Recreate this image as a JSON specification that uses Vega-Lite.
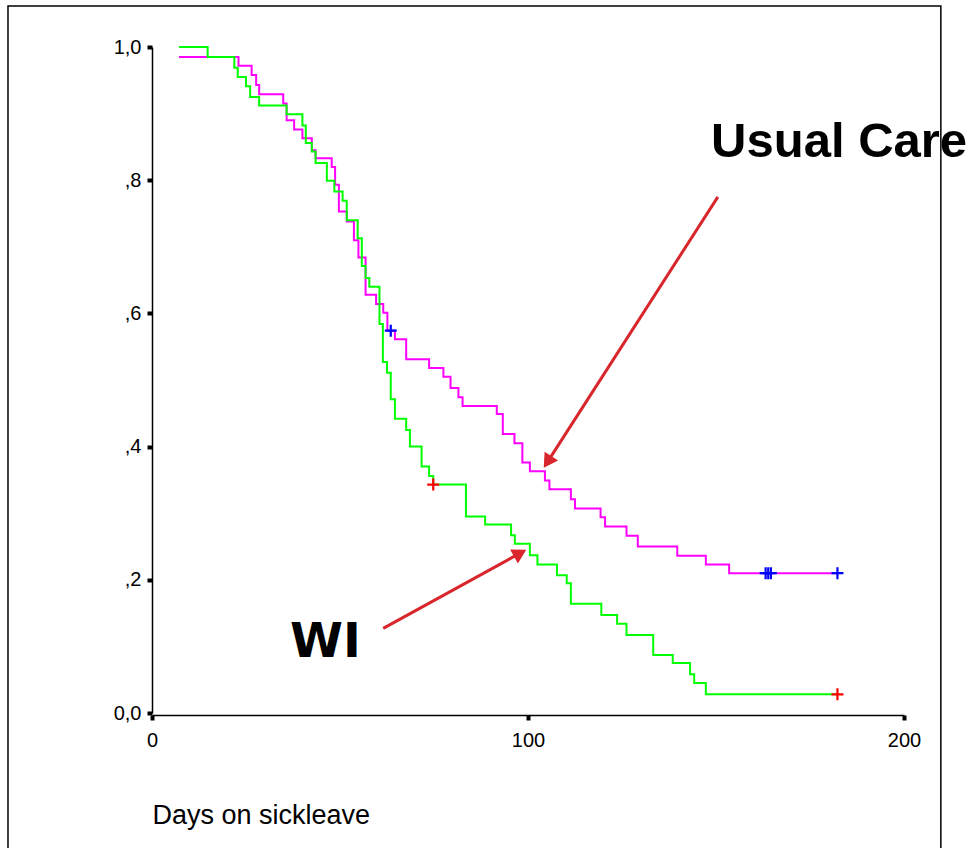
{
  "$schema": "https://vega.github.io/schema/vega-lite/v6.json",
  "width": 752,
  "height": 666,
  "autosize": "none",
  "padding": {"left": 152, "top": 47, "right": 68, "bottom": 135},
  "background": "white",
  "config": {
    "view": {"stroke": null},
    "axisX": {
      "grid": false, "offset": 2,
      "domainColor": "black", "domainWidth": 1.5,
      "tickColor": "black", "tickSize": 5, "tickWidth": 4,
      "labelFont": "Liberation Sans", "labelFontSize": 20, "labelColor": "black", "labelPadding": 10,
      "labelFlush": false,
      "titleFont": "Liberation Sans", "titleFontSize": 27,
      "titleFontWeight": "normal", "titleColor": "black",
      "titleAnchor": "start", "titleAlign": "left", "titleX": 0, "titleY": 108, "titleBaseline": "alphabetic"
    },
    "axisY": {
      "grid": false,
      "domainColor": "black", "domainWidth": 1.5,
      "tickColor": "black", "tickSize": 5, "tickWidth": 4,
      "labelFont": "Liberation Sans", "labelFontSize": 20, "labelColor": "black", "labelPadding": 6,
      "labelFlush": false
    }
  },
  "datasets": {
    "km": [
      {"group": "Usual Care", "day": 7.2, "surv": 0.985},
      {"group": "Usual Care", "day": 23.0, "surv": 0.972},
      {"group": "Usual Care", "day": 26.5, "surv": 0.958},
      {"group": "Usual Care", "day": 27.7, "surv": 0.943},
      {"group": "Usual Care", "day": 28.5, "surv": 0.929},
      {"group": "Usual Care", "day": 34.9, "surv": 0.915},
      {"group": "Usual Care", "day": 35.8, "surv": 0.890},
      {"group": "Usual Care", "day": 37.8, "surv": 0.876},
      {"group": "Usual Care", "day": 40.0, "surv": 0.863},
      {"group": "Usual Care", "day": 42.5, "surv": 0.845},
      {"group": "Usual Care", "day": 43.5, "surv": 0.833},
      {"group": "Usual Care", "day": 47.8, "surv": 0.820},
      {"group": "Usual Care", "day": 48.7, "surv": 0.793},
      {"group": "Usual Care", "day": 49.7, "surv": 0.753},
      {"group": "Usual Care", "day": 51.8, "surv": 0.738},
      {"group": "Usual Care", "day": 53.7, "surv": 0.710},
      {"group": "Usual Care", "day": 54.9, "surv": 0.684},
      {"group": "Usual Care", "day": 56.8, "surv": 0.628},
      {"group": "Usual Care", "day": 59.6, "surv": 0.614},
      {"group": "Usual Care", "day": 61.5, "surv": 0.601},
      {"group": "Usual Care", "day": 62.6, "surv": 0.574},
      {"group": "Usual Care", "day": 64.6, "surv": 0.561},
      {"group": "Usual Care", "day": 67.6, "surv": 0.531},
      {"group": "Usual Care", "day": 73.7, "surv": 0.518},
      {"group": "Usual Care", "day": 77.5, "surv": 0.505},
      {"group": "Usual Care", "day": 79.4, "surv": 0.488},
      {"group": "Usual Care", "day": 81.5, "surv": 0.474},
      {"group": "Usual Care", "day": 82.6, "surv": 0.461},
      {"group": "Usual Care", "day": 91.7, "surv": 0.449},
      {"group": "Usual Care", "day": 93.3, "surv": 0.419},
      {"group": "Usual Care", "day": 96.4, "surv": 0.405},
      {"group": "Usual Care", "day": 98.5, "surv": 0.376},
      {"group": "Usual Care", "day": 100.5, "surv": 0.363},
      {"group": "Usual Care", "day": 104.5, "surv": 0.349},
      {"group": "Usual Care", "day": 105.7, "surv": 0.336},
      {"group": "Usual Care", "day": 111.4, "surv": 0.321},
      {"group": "Usual Care", "day": 112.5, "surv": 0.307},
      {"group": "Usual Care", "day": 119.3, "surv": 0.294},
      {"group": "Usual Care", "day": 120.5, "surv": 0.280},
      {"group": "Usual Care", "day": 126.2, "surv": 0.266},
      {"group": "Usual Care", "day": 129.2, "surv": 0.250},
      {"group": "Usual Care", "day": 139.7, "surv": 0.236},
      {"group": "Usual Care", "day": 147.3, "surv": 0.223},
      {"group": "Usual Care", "day": 153.5, "surv": 0.210},
      {"group": "Usual Care", "day": 182.3, "surv": 0.210},
      {"group": "WI", "day": 7.2, "surv": 1.0},
      {"group": "WI", "day": 14.8, "surv": 0.985},
      {"group": "WI", "day": 21.9, "surv": 0.969},
      {"group": "WI", "day": 22.8, "surv": 0.955},
      {"group": "WI", "day": 25.0, "surv": 0.941},
      {"group": "WI", "day": 26.1, "surv": 0.925},
      {"group": "WI", "day": 28.5, "surv": 0.912},
      {"group": "WI", "day": 35.8, "surv": 0.899},
      {"group": "WI", "day": 40.0, "surv": 0.882},
      {"group": "WI", "day": 40.9, "surv": 0.856},
      {"group": "WI", "day": 42.5, "surv": 0.843},
      {"group": "WI", "day": 43.5, "surv": 0.826},
      {"group": "WI", "day": 46.5, "surv": 0.799},
      {"group": "WI", "day": 48.5, "surv": 0.783},
      {"group": "WI", "day": 50.7, "surv": 0.769},
      {"group": "WI", "day": 51.8, "surv": 0.740},
      {"group": "WI", "day": 54.7, "surv": 0.713},
      {"group": "WI", "day": 55.8, "surv": 0.671},
      {"group": "WI", "day": 56.8, "surv": 0.653},
      {"group": "WI", "day": 57.8, "surv": 0.640},
      {"group": "WI", "day": 60.5, "surv": 0.584},
      {"group": "WI", "day": 61.4, "surv": 0.527},
      {"group": "WI", "day": 62.5, "surv": 0.511},
      {"group": "WI", "day": 63.5, "surv": 0.471},
      {"group": "WI", "day": 64.6, "surv": 0.442},
      {"group": "WI", "day": 67.6, "surv": 0.425},
      {"group": "WI", "day": 68.6, "surv": 0.400},
      {"group": "WI", "day": 71.7, "surv": 0.370},
      {"group": "WI", "day": 73.7, "surv": 0.356},
      {"group": "WI", "day": 74.8, "surv": 0.343},
      {"group": "WI", "day": 83.5, "surv": 0.295},
      {"group": "WI", "day": 88.6, "surv": 0.283},
      {"group": "WI", "day": 95.5, "surv": 0.267},
      {"group": "WI", "day": 96.5, "surv": 0.254},
      {"group": "WI", "day": 100.5, "surv": 0.237},
      {"group": "WI", "day": 102.5, "surv": 0.223},
      {"group": "WI", "day": 107.7, "surv": 0.207},
      {"group": "WI", "day": 110.3, "surv": 0.195},
      {"group": "WI", "day": 111.4, "surv": 0.164},
      {"group": "WI", "day": 119.5, "surv": 0.147},
      {"group": "WI", "day": 123.7, "surv": 0.134},
      {"group": "WI", "day": 126.2, "surv": 0.117},
      {"group": "WI", "day": 133.3, "surv": 0.087},
      {"group": "WI", "day": 138.5, "surv": 0.075},
      {"group": "WI", "day": 143.1, "surv": 0.058},
      {"group": "WI", "day": 144.2, "surv": 0.045},
      {"group": "WI", "day": 147.3, "surv": 0.028},
      {"group": "WI", "day": 182.3, "surv": 0.028}
    ],
    "censor": [
      {"group": "Usual Care", "day": 63.5, "surv": 0.574},
      {"group": "Usual Care", "day": 163.2, "surv": 0.210},
      {"group": "Usual Care", "day": 163.9, "surv": 0.210},
      {"group": "Usual Care", "day": 164.6, "surv": 0.210},
      {"group": "Usual Care", "day": 182.3, "surv": 0.210},
      {"group": "WI", "day": 74.8, "surv": 0.343},
      {"group": "WI", "day": 182.3, "surv": 0.028}
    ],
    "arrows": [
      {"label": "Usual Care", "day": 150.5, "surv": 0.775, "day2": 105.2, "surv2": 0.377},
      {"label": "WI", "day": 61.5, "surv": 0.127, "day2": 97.9, "surv2": 0.240}
    ],
    "labels": [
      {"label": "Usual Care", "day": 148.7, "surv": 0.835}
    ],
    "labels2": [
      {"label": "WI", "day": 36.7, "surv": 0.084}
    ],
    "frame": [
      {"left": -38.3, "right": 209.8, "top": 1.0616, "bottom": -0.21}
    ]
  },
  "layer": [
    {
      "data": {"name": "km"},
      "mark": {"type": "line", "interpolate": "step-after", "strokeWidth": 2},
      "encoding": {
        "x": {
          "field": "day", "type": "quantitative", "title": "Days on sickleave",
          "scale": {"domain": [0, 200], "nice": false, "zero": false},
          "axis": {"values": [0, 100, 200]}
        },
        "y": {
          "field": "surv", "type": "quantitative", "title": null,
          "scale": {"domain": [0, 1], "nice": false, "zero": false},
          "axis": {
            "values": [0, 0.2, 0.4, 0.6, 0.8, 1.0],
            "labelExpr": "datum.value == 0 ? '0,0' : datum.value == 1 ? '1,0' : ',' + format(datum.value * 10, '.0f')"
          }
        },
        "color": {
          "field": "group", "type": "nominal",
          "scale": {"domain": ["Usual Care", "WI"], "range": ["#FF00FF", "#00FF00"]},
          "legend": null
        }
      }
    },
    {
      "data": {"name": "censor"},
      "mark": {"type": "point", "shape": "M-1,0H1M0,-1V1", "filled": false, "strokeWidth": 2.2, "size": 144, "opacity": 1},
      "encoding": {
        "x": {"field": "day", "type": "quantitative", "title": "Days on sickleave", "scale": {"domain": [0, 200], "nice": false, "zero": false}},
        "y": {"field": "surv", "type": "quantitative", "title": null, "scale": {"domain": [0, 1], "nice": false, "zero": false}},
        "stroke": {
          "field": "group", "type": "nominal",
          "scale": {"domain": ["Usual Care", "WI"], "range": ["#0000FF", "#FF0000"]},
          "legend": null
        }
      }
    },
    {
      "data": {"name": "arrows"},
      "mark": {"type": "rule", "color": "#D8262C", "strokeWidth": 3},
      "encoding": {
        "x": {"field": "day", "type": "quantitative", "title": "Days on sickleave", "scale": {"domain": [0, 200], "nice": false, "zero": false}},
        "y": {"field": "surv", "type": "quantitative", "title": null, "scale": {"domain": [0, 1], "nice": false, "zero": false}},
        "x2": {"field": "day2"},
        "y2": {"field": "surv2"}
      }
    },
    {
      "data": {"name": "arrows"},
      "transform": [{"filter": "datum.label == 'Usual Care'"}],
      "mark": {"type": "point", "shape": "triangle-up", "filled": true, "color": "#D8262C", "size": 260, "angle": 213, "opacity": 1},
      "encoding": {
        "x": {"field": "day2", "type": "quantitative", "title": "Days on sickleave", "scale": {"domain": [0, 200], "nice": false, "zero": false}},
        "y": {"field": "surv2", "type": "quantitative", "title": null, "scale": {"domain": [0, 1], "nice": false, "zero": false}}
      }
    },
    {
      "data": {"name": "arrows"},
      "transform": [{"filter": "datum.label == 'WI'"}],
      "mark": {"type": "point", "shape": "triangle-up", "filled": true, "color": "#D8262C", "size": 260, "angle": 61, "opacity": 1},
      "encoding": {
        "x": {"field": "day2", "type": "quantitative", "title": "Days on sickleave", "scale": {"domain": [0, 200], "nice": false, "zero": false}},
        "y": {"field": "surv2", "type": "quantitative", "title": null, "scale": {"domain": [0, 1], "nice": false, "zero": false}}
      }
    },
    {
      "data": {"name": "labels"},
      "mark": {"type": "text", "align": "left", "baseline": "alphabetic", "font": "Liberation Sans", "fontWeight": "bold", "fontSize": 49, "color": "black"},
      "encoding": {
        "x": {"field": "day", "type": "quantitative", "title": "Days on sickleave", "scale": {"domain": [0, 200], "nice": false, "zero": false}},
        "y": {"field": "surv", "type": "quantitative", "title": null, "scale": {"domain": [0, 1], "nice": false, "zero": false}},
        "text": {"field": "label"}
      }
    },
    {
      "data": {"name": "labels2"},
      "mark": {"type": "text", "align": "left", "baseline": "alphabetic", "font": "DejaVu Sans", "fontWeight": "bold", "fontSize": 48, "color": "black"},
      "encoding": {
        "x": {"field": "day", "type": "quantitative", "title": "Days on sickleave", "scale": {"domain": [0, 200], "nice": false, "zero": false}},
        "y": {"field": "surv", "type": "quantitative", "title": null, "scale": {"domain": [0, 1], "nice": false, "zero": false}},
        "text": {"field": "label"}
      }
    },
    {
      "data": {"name": "frame"},
      "mark": {"type": "rect", "filled": false, "stroke": "black", "strokeWidth": 1.5},
      "encoding": {
        "x": {"field": "left", "type": "quantitative", "title": "Days on sickleave", "scale": {"domain": [0, 200], "nice": false, "zero": false}},
        "x2": {"field": "right"},
        "y": {"field": "top", "type": "quantitative", "title": null, "scale": {"domain": [0, 1], "nice": false, "zero": false}},
        "y2": {"field": "bottom"}
      }
    }
  ]
}
